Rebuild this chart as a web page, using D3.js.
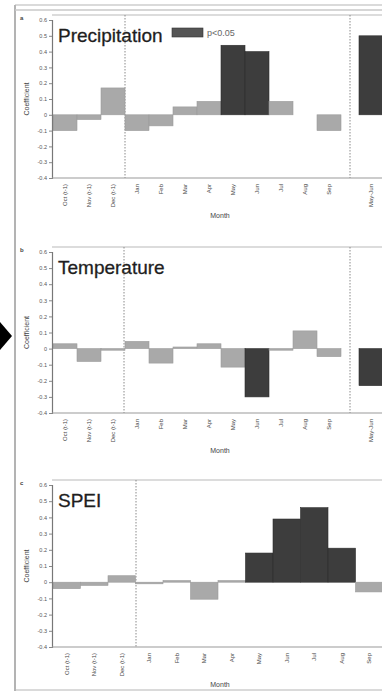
<!DOCTYPE html>
<html><head><meta charset="utf-8">
<script src="https://cdn.jsdelivr.net/npm/d3@7"></script>
<style>html,body{margin:0;padding:0;background:#fff;overflow:hidden}svg{display:block}</style>
</head><body>
<svg id="c" width="382" height="691"></svg>
<script>
const months = ["Oct (t-1)","Nov (t-1)","Dec (t-1)","Jan","Feb","Mar","Apr","May","Jun","Jul","Aug","Sep"];
const seasons = ["May-Jun"];
const yTicks = [0.6,0.5,0.4,0.3,0.2,0.1,0,-0.1,-0.2,-0.3,-0.4];
const yTickLabels = ["0.6","0.5","0.4","0.3","0.2","0.1","0","-0.1","-0.2","-0.3","-0.4"];

const precip = [-0.10,-0.03,0.17,-0.10,-0.07,0.05,0.085,0.44,0.40,0.085,0,-0.10];
const precipSig = [0,0,0,0,0,0,0,1,1,0,0,0];
const precipSeason = [0.50];
const precipSeasonSig = [1];

const temp = [0.03,-0.08,-0.01,0.045,-0.09,0.01,0.03,-0.115,-0.30,-0.01,0.11,-0.05];
const tempSig = [0,0,0,0,0,0,0,0,1,0,0,0];
const tempSeason = [-0.23];
const tempSeasonSig = [1];

const spei = [-0.04,-0.02,0.04,-0.01,0.01,-0.105,0.01,0.18,0.39,0.46,0.21,-0.06];
const speiSig = [0,0,0,0,0,0,0,1,1,1,1,0];

const svg = d3.select("#c");
const LIGHT = "#a9a9a9", DARK = "#3d3d3d";
const FONT = "Liberation Sans, Arial, sans-serif";

// outer frame
svg.append("line").attr("x1",15).attr("x2",15).attr("y1",5).attr("y2",691).attr("stroke","#9a9a9a").attr("stroke-width",1.5);
svg.append("line").attr("x1",15).attr("x2",382).attr("y1",5).attr("y2",5).attr("stroke","#b5b5b5").attr("stroke-width",1);
svg.append("line").attr("x1",15).attr("x2",382).attr("y1",10).attr("y2",10).attr("stroke","#c8c8c8").attr("stroke-width",1.5);
svg.append("line").attr("x1",15).attr("x2",382).attr("y1",690).attr("y2",690).attr("stroke","#b5b5b5").attr("stroke-width",1);
// arrow
svg.append("path").attr("d","M0,322 L12,336 L0,350 Z").attr("fill","#000");

const panels = [
  {letter:"a", title:"Precipitation", vals:precip, sig:precipSig, sv:precipSeason, ssig:precipSeasonSig, top:20, bot:178, xr:[53,341], dash:[125,350], legend:true},
  {letter:"b", title:"Temperature", vals:temp, sig:tempSig, sv:tempSeason, ssig:tempSeasonSig, top:252, bot:413, xr:[53,341], dash:[124,350], legend:false},
  {letter:"c", title:"SPEI", vals:spei, sig:speiSig, sv:null, ssig:null, top:485, bot:647, xr:[53,383], dash:[136], legend:false}
];

panels.forEach(p => {
  const g = svg.append("g");
  const y = d3.scaleLinear().domain([-0.4,0.6]).range([p.bot,p.top]);
  const x = d3.scaleBand().domain(months).range(p.xr).paddingInner(0).paddingOuter(0);
  g.append("line").attr("x1",52).attr("x2",382).attr("y1",p.top-5).attr("y2",p.top-5).attr("stroke","#d0d0d0").attr("stroke-width",1.5);
  p.dash.forEach(dx => g.append("line").attr("x1",dx).attr("x2",dx).attr("y1",p.top-5).attr("y2",p.bot)
    .attr("stroke","#8a8a8a").attr("stroke-width",1).attr("stroke-dasharray","1.5,1.5"));
  g.selectAll("rect.m").data(p.vals).join("rect").attr("class","m")
    .attr("x",(d,i)=>x(months[i])).attr("width",x.bandwidth())
    .attr("y",d=>y(Math.max(0,d))).attr("height",d=>Math.abs(y(d)-y(0)))
    .attr("fill",(d,i)=>p.sig[i]?DARK:LIGHT).attr("stroke",(d,i)=>p.sig[i]?"#2e2e2e":"#9c9c9c").attr("stroke-width",0.6);
  let xs = null;
  if (p.sv) {
    xs = d3.scaleBand().domain(seasons).range([359,383]);
    g.selectAll("rect.s").data(p.sv).join("rect").attr("class","s")
      .attr("x",(d,i)=>xs(seasons[i])).attr("width",xs.bandwidth()+10)
      .attr("y",d=>y(Math.max(0,d))).attr("height",d=>Math.abs(y(d)-y(0)))
      .attr("fill",(d,i)=>p.ssig[i]?DARK:LIGHT).attr("stroke","#2e2e2e").attr("stroke-width",0.6);
  }
  const ya = g.append("g").attr("transform","translate(52,0)")
    .call(d3.axisLeft(y).tickValues(yTicks).tickFormat((d,i)=>yTickLabels[i]).tickSize(3).tickPadding(2));
  ya.select(".domain").attr("stroke","#777").attr("stroke-width",1.2);
  ya.selectAll(".tick line").attr("stroke","#888");
  ya.selectAll("text").attr("font-family",FONT).attr("font-size",5.5).attr("fill","#555");
  g.append("line").attr("x1",52).attr("x2",382).attr("y1",p.bot).attr("y2",p.bot).attr("stroke","#9a9a9a").attr("stroke-width",1.2);
  const styleX = sel => {
    sel.select(".domain").remove();
    sel.selectAll("text").attr("transform","rotate(-90)").attr("x",-6).attr("y",0).attr("dy","0.35em")
      .attr("text-anchor","end").attr("font-family",FONT).attr("font-size",6).attr("fill","#444");
  };
  styleX(g.append("g").attr("transform",`translate(0,${p.bot})`).call(d3.axisBottom(x).tickSize(0).tickPadding(0)));
  if (xs) styleX(g.append("g").attr("transform",`translate(0,${p.bot})`).call(d3.axisBottom(xs).tickSize(0).tickPadding(0)));
  g.append("text").attr("x",220).attr("y",p.bot+40).attr("text-anchor","middle")
    .attr("font-family",FONT).attr("font-size",7).attr("fill","#444").text("Month");
  g.append("text").attr("transform",`translate(29,${(p.top+p.bot)/2}) rotate(-90)`).attr("text-anchor","middle")
    .attr("font-family",FONT).attr("font-size",7).attr("fill","#444").text("Coefficient");
  g.append("text").attr("x",20).attr("y",p.top).attr("font-family",FONT)
    .attr("font-size",6).attr("font-weight","bold").attr("fill","#444").text(p.letter);
  g.append("text").attr("x",58).attr("y",p.top+22).attr("font-family",FONT)
    .attr("font-size",19).attr("fill","#1e1e1e").attr("stroke","#1e1e1e").attr("stroke-width",0.3).text(p.title);
  if (p.legend) {
    g.append("rect").attr("x",172).attr("y",28).attr("width",31).attr("height",9).attr("fill","#555").attr("stroke","#333").attr("stroke-width",0.6);
    g.append("text").attr("x",207).attr("y",36).attr("font-family",FONT)
      .attr("font-size",9).attr("fill","#666").text("p<0.05");
  }
});
</script>
</body></html>
